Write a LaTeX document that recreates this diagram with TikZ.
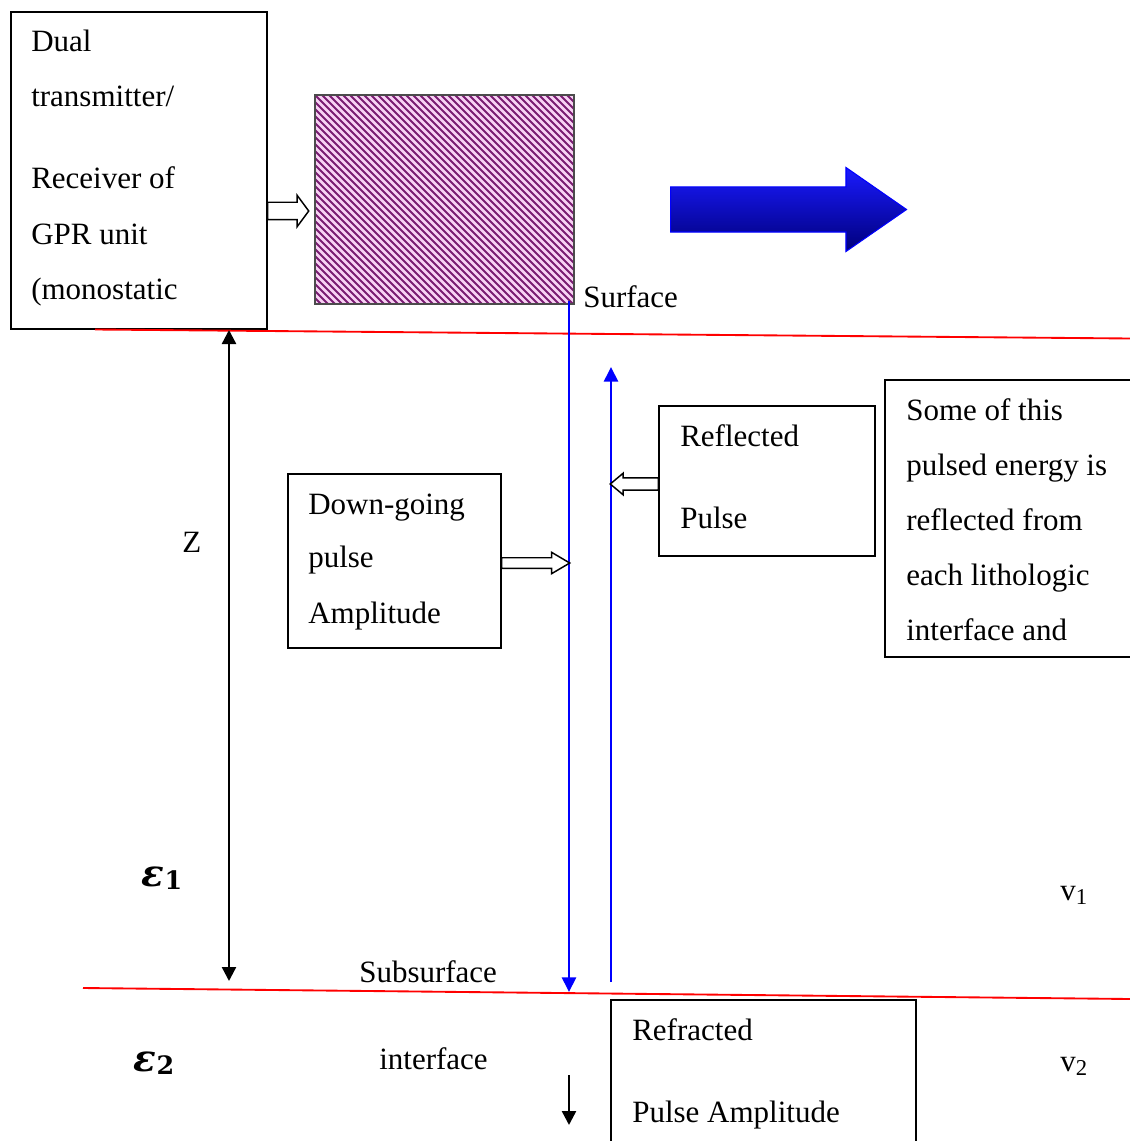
\documentclass[tikz,border=0pt]{standalone}
\usepackage{fontspec}
\setmainfont{Liberation Serif}
\newfontfamily\epsfont{DejaVu Serif}
\usetikzlibrary{arrows.meta,shapes.arrows}
\definecolor{hatchbg}{HTML}{F8D2F4}
\definecolor{hatchln}{HTML}{7A1C72}
\definecolor{arrtop}{HTML}{1A1AFF}
\definecolor{arrbot}{HTML}{00007A}
\newcommand{\epsl}[1]{{\epsfont\bfseries\itshape\fontsize{28}{30}\selectfont ε}\raisebox{-0.45ex}{\epsfont\bfseries\fontsize{19}{20}\selectfont #1}}
\begin{document}
\begin{tikzpicture}[x=0.75pt,y=-0.75pt,
  txt/.style={font=\fontsize{23.25}{28}\selectfont, inner sep=0pt, anchor=base west},
  box/.style={draw=black, line width=1.2pt, inner sep=0pt},
  hollow/.style={single arrow, draw=black, fill=white, line width=1.1pt, inner xsep=0pt, single arrow head indent=0pt},
  redline/.style={draw=red, line width=1.4pt},
  bluearr/.style={draw=blue, line width=2pt, -{Triangle[length=11pt,width=10.5pt]}},
  blackarr/.style={draw=black, line width=1.8pt, -{Triangle[length=10.5pt,width=10.5pt]}},
  epsi/.style={inner sep=0pt},
]
\useasboundingbox (0,0) rectangle (1130,1141);

% transmitter / receiver unit
\node[box, minimum width=256*0.75pt, minimum height=317*0.75pt] (unit) at (139,170.5) {};
\node[txt] (u1) at (31,52) {Dual};
\node[txt] (u2) at (31,107) {transmitter/};
\node[txt] (u3) at (31,189) {Receiver of};
\node[txt] (u4) at (31,244) {GPR unit};
\node[txt] (u5) at (31,299) {(monostatic};

% hatched antenna
\begin{scope}
\clip (315,95) rectangle (574,304);
\fill[hatchbg] (315,95) rectangle (574,304);
\foreach \k in {-32,...,38} \draw[hatchln, line width=1.35pt] ({315+\k*7},95) -- ({315+\k*7+209},304);
\end{scope}
\node[draw=black!70, line width=0.8pt, minimum width=259*0.75pt, minimum height=209*0.75pt, inner sep=0pt] (ant) at (444.5,199.5) {};

\node[hollow, minimum height=41*0.75pt, inner ysep=6pt, single arrow head extend=5.25pt, single arrow tip angle=107, anchor=tail] (a1) at (267,211) {};

% big blue arrow
\node[single arrow, minimum height=236*0.75pt, inner xsep=0pt, inner ysep=16.5pt, single arrow head extend=14.6pt, single arrow tip angle=69.5, single arrow head indent=0pt, top color=arrtop, bottom color=arrbot, draw=blue, line width=0.8pt, anchor=tail] (move) at (670,209.5) {};

\node[txt] (surf) at (583,307) {Surface};

% interfaces
\coordinate (r1a) at (95,329.5); \coordinate (r1b) at (1130,338.5);
\coordinate (r2a) at (83,988); \coordinate (r2b) at (1130,999);
\draw[redline] (r1a) -- (r1b);
\draw[redline] (r2a) -- (r2b);

% depth arrow
\coordinate (ztop) at (229,330); \coordinate (zbot) at (229,981);
\draw[line width=1.8pt, {Triangle[length=10.5pt,width=10.5pt]}-{Triangle[length=10.5pt,width=10.5pt]}] (ztop) -- (zbot);
\node[txt] (z) at (182,552) {Z};

% pulses
\coordinate (d1) at (569,301); \coordinate (d2) at (569,992);
\coordinate (u1p) at (611,982); \coordinate (u2p) at (611,367);
\draw[bluearr] (d1) -- (d2);
\draw[bluearr] (u1p) -- (u2p);

% down-going box
\node[box, minimum width=213*0.75pt, minimum height=174*0.75pt] (down) at (394.5,561) {};
\node[txt] at (308,514) {Down-going};
\node[txt] at (308,567) {pulse};
\node[txt] at (308,623) {Amplitude};
\node[hollow, minimum height=68*0.75pt, inner ysep=3.4pt, single arrow head extend=4.1pt, single arrow tip angle=61, anchor=tail] (a2) at (501,563) {};

% reflected box
\node[box, minimum width=216*0.75pt, minimum height=150*0.75pt] (refl) at (767,481) {};
\node[txt] at (680,446) {Reflected};
\node[txt] at (680,528) {Pulse};
\node[hollow, shape border rotate=180, minimum height=48*0.75pt, inner ysep=4.1pt, single arrow head extend=3.4pt, single arrow tip angle=80, anchor=tail] (a3) at (659,484) {};

% explanation box
\node[box, minimum width=260*0.75pt, minimum height=277*0.75pt] (expl) at (1015,518.5) {};
\node[txt] at (906,420) {Some of this};
\node[txt] at (906,475) {pulsed energy is};
\node[txt] at (906,530) {reflected from};
\node[txt] at (906,585) {each lithologic};
\node[txt] at (906,640) {interface and};

% layer labels
\node[epsi] (e1) at (162,878) {\epsl{1}};
\node[epsi] (e2) at (154,1063) {\epsl{2}};
\node[txt] (v1) at (1060,900) {v\raisebox{-0.35ex}{\fontsize{17}{18}\selectfont 1}};
\node[txt] (v2) at (1060,1071) {v\raisebox{-0.35ex}{\fontsize{17}{18}\selectfont 2}};
\node[txt] (sub) at (359,982) {Subsurface};
\node[txt] (intf) at (379,1069) {interface};

% refracted
\coordinate (s1) at (569,1075); \coordinate (s2) at (569,1125);
\draw[blackarr] (s1) -- (s2);
\node[box, minimum width=305*0.75pt, minimum height=160*0.75pt] (refr) at (763.5,1080) {};
\node[txt] at (632,1040) {Refracted};
\node[txt] at (632,1122) {Pulse Amplitude};
\end{tikzpicture}
\end{document}
